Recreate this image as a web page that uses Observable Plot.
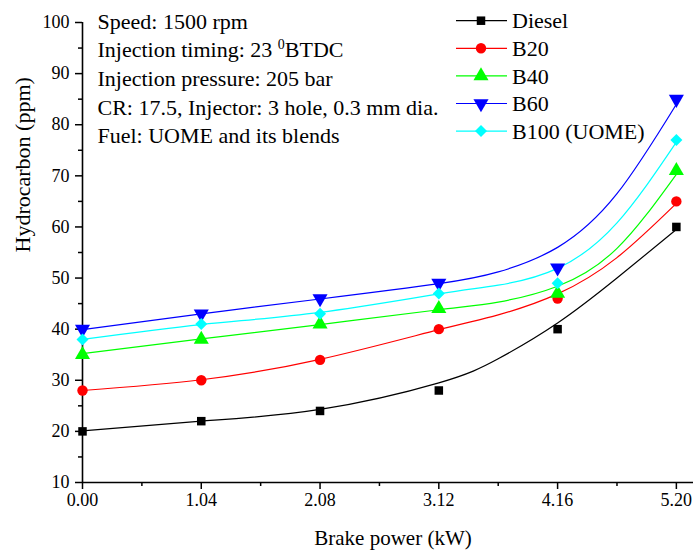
<!DOCTYPE html>
<html><head><meta charset="utf-8">
<script src="https://cdn.jsdelivr.net/npm/d3@7"></script>
<script src="https://cdn.jsdelivr.net/npm/@observablehq/plot@0.6"></script>
<style>body{margin:0;background:#fff} svg, svg text, svg tspan {font-family: "Liberation Serif", "Times New Roman", serif !important;}</style>
</head><body><div id="chart"></div>
<script>
// measured points
const power = [0, 1.04, 2.08, 3.12, 4.16, 5.20];
const diesel = [20, 22, 24, 28, 40, 60];
const b20 = [28, 30, 34, 40, 46, 65];
const b40 = [35, 38, 41, 44, 47, 71];
const b60 = [40, 43, 46, 49, 52, 85];
const b100 = [38, 41, 43, 47, 49, 77];
// fitted trend curves
const fitPower = [0, 1.04, 2.08, 3.12, 3.64, 4.16, 4.68, 5.20];
const dieselFit = [20.1, 22.0, 24.3, 29.5, 34.2, 41.2, 50.0, 59.5];
const b20Fit = [28.0, 30.1, 34.1, 39.9, 42.8, 46.9, 54.0, 64.6];
const b40Fit = [35.2, 38.1, 40.9, 43.8, 45.3, 48.4, 55.8, 70.3];
const b60Fit = [39.9, 43.0, 45.9, 48.9, 51.2, 56.0, 66.5, 84.0];
const b100Fit = [38.0, 40.9, 43.3, 46.9, 48.6, 51.9, 60.8, 76.6];

const seriesNames = ["Diesel", "B20", "B40", "B60", "B100 (UOME)"];
const seriesColors = ["#000000", "#ff0000", "#00ff00", "#0000ff", "#00ffff"];
const xTicks = [0, 1.04, 2.08, 3.12, 4.16, 5.20];
const xMinor = [0.52, 1.56, 2.60, 3.64, 4.68];
const yTicks = [10, 20, 30, 40, 50, 60, 70, 80, 90, 100];
const yMinor = [15, 25, 35, 45, 55, 65, 75, 85, 95];
const xTitle = "Brake power (kW)";
const yTitle = "Hydrocarbon (ppm)";
const notes = ["Speed: 1500 rpm", "Injection timing: 23 \u2070BTDC", "Injection pressure: 205 bar",
  "CR: 17.5, Injector: 3 hole, 0.3 mm dia.", "Fuel: UOME and its blends"];

const triangleDown = {
  draw(context, size) {
    const s3 = Math.sqrt(3);
    const y = -Math.sqrt(size / (s3 * 3));
    context.moveTo(0, -y * 2);
    context.lineTo(-s3 * y, y);
    context.lineTo(s3 * y, y);
    context.closePath();
  }
};
const symbols = ["square", "circle", "triangle", triangleDown, "diamond2"];
const sizes = [4.8, 5.2, 5.6, 5.6, 5.4];
const values = [diesel, b20, b40, b60, b100];
const fits = [dieselFit, b20Fit, b40Fit, b60Fit, b100Fit];

const marks = [];
seriesNames.forEach((name, i) => {
  const fitRows = fitPower.map((x, j) => ({x, y: fits[i][j]}));
  marks.push(Plot.line(fitRows, {x: "x", y: "y", stroke: seriesColors[i], strokeWidth: 1.2, curve: "natural"}));
});
seriesNames.forEach((name, i) => {
  const rows = power.map((x, j) => ({x, y: values[i][j]}));
  marks.push(Plot.dot(rows, {x: "x", y: "y", symbol: symbols[i], fill: seriesColors[i], stroke: "none", r: sizes[i]}));
});

const serif = "'Liberation Serif', 'Times New Roman', serif";
const chart = Plot.plot({
  width: 693,
  height: 550,
  marginLeft: 82,
  marginRight: 0,
  marginTop: 22,
  marginBottom: 68,
  style: {fontFamily: serif, background: "#fff", color: "#000", overflow: "visible"},
  x: {domain: [0, 5.35], axis: null},
  y: {domain: [10, 100], axis: null},
  marks: [
    Plot.axisX(xTicks, {tickSize: 7, tickPadding: 4, tickFormat: d => d.toFixed(2), fontSize: 18, strokeWidth: 1.5, label: null}),
    Plot.axisX(xMinor, {tickSize: 4, tickFormat: () => "", strokeWidth: 1.5, label: null}),
    Plot.axisY(yTicks, {tickSize: 7, tickPadding: 6, fontSize: 18, strokeWidth: 1.5, label: null}),
    Plot.axisY(yMinor, {tickSize: 4, tickFormat: () => "", strokeWidth: 1.5, label: null}),
    Plot.ruleX([0], {stroke: "#000", strokeWidth: 1.6}),
    Plot.ruleY([10], {stroke: "#000", strokeWidth: 1.6}),
    ...marks,
    Plot.text([xTitle], {text: d => d, frameAnchor: "bottom", dy: 56, dx: 5, fontSize: 21, lineAnchor: "middle"}),
    Plot.text([yTitle], {text: d => d, frameAnchor: "left", dx: -60, rotate: -90, fontSize: 22, lineAnchor: "middle"}),
    Plot.text([notes.join("\n")], {text: d => d, frameAnchor: "top-left", dx: 15, dy: -14, lineAnchor: "top", textAnchor: "start", fontSize: 22, lineHeight: 1.3})
  ]
});
document.getElementById("chart").appendChild(chart);
d3.select(chart).attr("font-family", serif).style("font-family", serif);

// superscript mark in the notes
d3.select(chart).selectAll("tspan").each(function() {
  const t = this.textContent;
  const k = t.indexOf("\u2070");
  if (k >= 0) {
    const sel = d3.select(this);
    sel.text(null);
    sel.append("tspan").text(t.slice(0, k));
    sel.append("tspan").attr("font-size", "14px").attr("dy", "-8").text("0");
    sel.append("tspan").attr("dy", "8").text(t.slice(k + 1));
  }
});

// legend
const svg = d3.select(chart);
const lg = svg.append("g").attr("font-size", 22).attr("font-family", serif).attr("text-anchor", "start");
seriesNames.forEach((name, i) => {
  const y = 20.7 + i * 27.6;
  const g = lg.append("g").attr("transform", `translate(0,${y})`);
  g.append("line").attr("x1", 456).attr("x2", 507).attr("stroke", seriesColors[i]).attr("stroke-width", 1.2);
  const sym = typeof symbols[i] === "string"
    ? ({square: d3.symbolSquare, circle: d3.symbolCircle, triangle: d3.symbolTriangle, diamond2: d3.symbolDiamond2})[symbols[i]]
    : symbols[i];
  g.append("path").attr("transform", "translate(481,0)")
    .attr("d", d3.symbol(sym, Math.PI * sizes[i] * sizes[i])())
    .attr("fill", seriesColors[i]);
  g.append("text").attr("x", 512).attr("dy", "0.35em").attr("fill", "#000").text(name);
});
</script>
</body></html>
